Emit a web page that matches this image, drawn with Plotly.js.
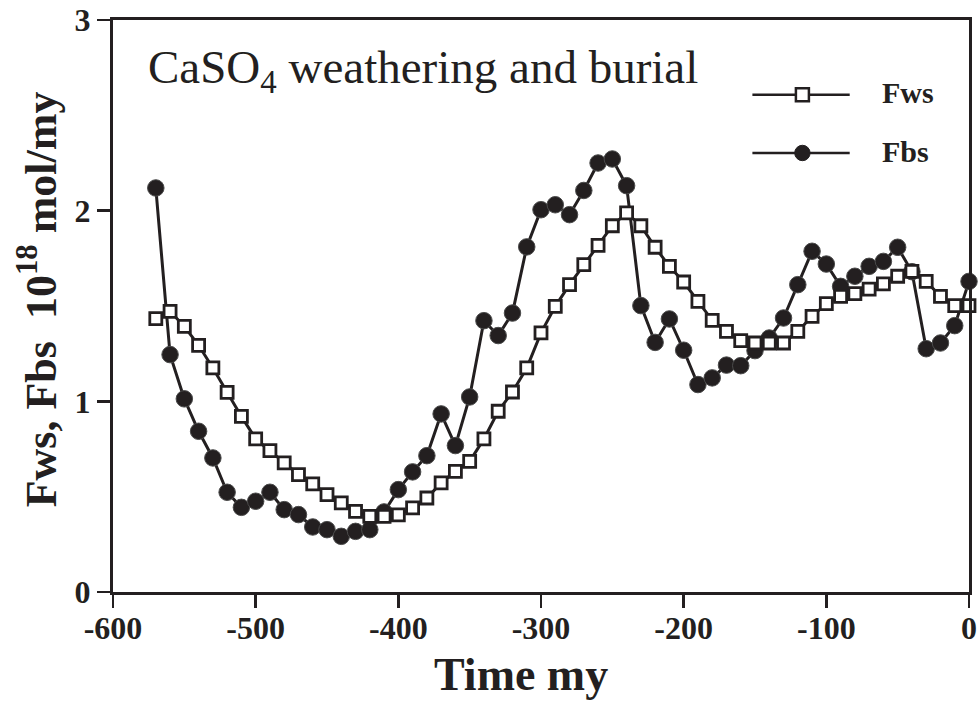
<!DOCTYPE html>
<html>
<head>
<meta charset="utf-8">
<script src="https://cdn.plot.ly/plotly-3.0.1.min.js"></script>
<style>
html,body{margin:0;padding:0;background:#fff;}
#chart{width:979px;height:708px;}
</style>
</head>
<body>
<div id="chart"></div>
<script>
// Time (million years)
const timeMy = [-570,-560,-550,-540,-530,-520,-510,-500,-490,-480,-470,-460,-450,-440,-430,-420,-410,-400,
  -390,-380,-370,-360,-350,-340,-330,-320,-310,-300,-290,-280,-270,-260,-250,-240,-230,-220,-210,-200,
  -190,-180,-170,-160,-150,-140,-130,-120,-110,-100,-90,-80,-70,-60,-50,-40,-30,-20,-10,0];

// CaSO4 weathering flux (10^18 mol/my)
const fws = [1.434,1.472,1.393,1.294,1.175,1.047,0.921,0.803,0.741,0.677,0.616,0.567,0.511,0.467,0.423,0.397,0.397,0.404,
  0.441,0.493,0.572,0.633,0.685,0.803,0.948,1.049,1.175,1.359,1.498,1.612,1.717,1.818,1.921,1.988,1.921,1.808,1.708,1.626,
  1.524,1.425,1.367,1.318,1.306,1.306,1.306,1.367,1.446,1.512,1.551,1.565,1.589,1.616,1.656,1.682,1.629,1.551,1.502,1.502];

// CaSO4 burial flux (10^18 mol/my)
const fbs = [2.119,1.245,1.013,0.843,0.703,0.523,0.444,0.476,0.523,0.432,0.406,0.341,0.327,0.292,0.318,0.327,0.420,0.537,
  0.630,0.715,0.934,0.768,1.023,1.423,1.345,1.463,1.810,2.005,2.031,1.979,2.106,2.250,2.271,2.131,1.502,1.309,1.432,1.268,
  1.088,1.123,1.190,1.187,1.266,1.332,1.437,1.612,1.787,1.720,1.603,1.656,1.708,1.734,1.808,1.680,1.276,1.306,1.397,1.629];

const seriesNames = ["Fws", "Fbs"];
const xTickVals = [-600,-500,-400,-300,-200,-100,0];
const xTickText = ["-600","-500","-400","-300","-200","-100","0"];
const yTickVals = [0,1,2,3];
const yTickText = ["0","1","2","3"];

const ink = "#231f20";
const serif = "Liberation Serif, Times New Roman, serif";

// plot-area geometry (px) used to place legend/annotations in paper coords
const L = 113.3, R = 969.3, T = 20.3, B = 592.4;
const W = R - L, H = B - T;
const px = v => (v - L) / W;
const py = v => (B - v) / H;

const traces = [
  {
    x: timeMy, y: fbs, name: seriesNames[1], type: "scatter", mode: "lines+markers",
    line: {color: ink, width: 3},
    marker: {symbol: "circle", size: 16.5, color: ink, line: {color: "#4a4a4a", width: 1}},
    showlegend: false, cliponaxis: false
  },
  {
    x: timeMy, y: fws, name: seriesNames[0], type: "scatter", mode: "lines+markers",
    line: {color: ink, width: 3},
    marker: {symbol: "square", size: 12, color: "#ffffff", line: {color: ink, width: 2.8}},
    showlegend: false, cliponaxis: false
  }
];

const axisCommon = {
  showline: true, linecolor: ink, linewidth: 3, mirror: true,
  ticks: "outside", ticklen: 13, tickwidth: 2.5, tickcolor: ink,
  showgrid: false, zeroline: false,
  tickfont: {family: serif, size: 32, color: ink, weight: "bold"}
};

const layout = {
  width: 979, height: 708,
  margin: {l: L, r: 979 - R, t: T, b: 708 - B, pad: 0},
  paper_bgcolor: "#fff", plot_bgcolor: "#fff",
  showlegend: false,
  xaxis: Object.assign({}, axisCommon, {
    range: [-600, 0], tickmode: "array", tickvals: xTickVals, ticktext: xTickText,
    ticklabelstandoff: -7
  }),
  yaxis: Object.assign({}, axisCommon, {
    range: [0, 3], tickmode: "array", tickvals: yTickVals, ticktext: yTickText
  }),
  shapes: [
    {type: "line", xref: "paper", yref: "paper", x0: px(752.7), x1: px(850), y0: py(95), y1: py(95),
     line: {color: ink, width: 2.5}, layer: "above"},
    {type: "rect", xref: "paper", yref: "paper", x0: px(796.2), x1: px(809.2), y0: py(101.5), y1: py(88.5),
     line: {color: ink, width: 2.5}, fillcolor: "#fff", layer: "above"},
    {type: "line", xref: "paper", yref: "paper", x0: px(752.7), x1: px(850), y0: py(153.3), y1: py(153.3),
     line: {color: ink, width: 2.5}, layer: "above"},
    {type: "circle", xref: "paper", yref: "paper", x0: px(795), x1: px(810.4), y0: py(161), y1: py(145.6),
     line: {color: ink, width: 1}, fillcolor: ink, layer: "above"}
  ],
  annotations: [
    {text: "CaSO<sub>4</sub> weathering and burial", xref: "paper", yref: "paper",
     x: px(146.7), y: py(70.8), xanchor: "left", yanchor: "middle", showarrow: false,
     font: {family: serif, size: 47, color: ink}},
    {text: "<b>" + seriesNames[0] + "</b>", xref: "paper", yref: "paper",
     x: px(880), y: py(93.2), xanchor: "left", yanchor: "middle", showarrow: false,
     font: {family: serif, size: 30, color: ink}},
    {text: "<b>" + seriesNames[1] + "</b>", xref: "paper", yref: "paper",
     x: px(880), y: py(151.5), xanchor: "left", yanchor: "middle", showarrow: false,
     font: {family: serif, size: 30, color: ink}},
    {text: "<b>Time my</b>", xref: "paper", yref: "paper",
     x: px(521.7), y: py(675), xanchor: "center", yanchor: "middle", showarrow: false,
     font: {family: serif, size: 46, color: ink}},
    {text: "<b>Fws, Fbs  10<sup>18</sup> mol/my</b>", xref: "paper", yref: "paper",
     x: px(38), y: py(300), xanchor: "center", yanchor: "middle", showarrow: false, textangle: -90,
     font: {family: serif, size: 44, color: ink}}
  ]
};

Plotly.newPlot("chart", traces, layout, {staticPlot: true, displayModeBar: false});
</script>
</body>
</html>
